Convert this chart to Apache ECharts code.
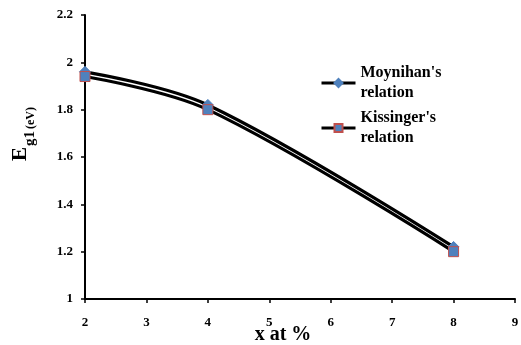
<!DOCTYPE html>
<html><head><meta charset="utf-8">
<script src="https://cdn.jsdelivr.net/npm/echarts@6/dist/echarts.min.js"></script>
<style>html,body{margin:0;padding:0;background:#fff}#c{width:521px;height:345px}</style>
</head><body><div id="c"></div>
<script>
const xValues = [2, 4, 8];
const moynihan = [1.96, 1.82, 1.22];
const kissinger = [1.94, 1.80, 1.20];
const seriesNames = ["Moynihan's\nrelation", "Kissinger's\nrelation"];

const F = '"Liberation Serif","Times New Roman",serif';
const chart = echarts.init(document.getElementById('c'));
chart.setOption({
  animation: false,
  backgroundColor: '#fff',
  grid: {left: 85, right: 6, top: 15, bottom: 46, containLabel: false, outerBoundsMode: 'none'},
  legend: {
    orient: 'vertical', left: 315, top: 58, itemWidth: 34, itemHeight: 10, itemGap: 5,
    lineStyle: {width: 3, color: '#000'},
    textStyle: {fontFamily: F, fontWeight: 'bold', fontSize: 16, color: '#000', lineHeight: 20},
    data: seriesNames
  },
  xAxis: {
    type: 'value', min: 2, max: 9, interval: 1,
    name: 'x at %', nameLocation: 'middle', nameGap: 26, nameMoveOverlap: false,
    nameTextStyle: {fontFamily: F, fontWeight: 'bold', fontSize: 20, color: '#000', padding: [0, 34, 0, 0]},
    axisLine: {lineStyle: {color: '#000', width: 2}},
    axisTick: {length: 4, lineStyle: {color: '#000', width: 1.5}},
    axisLabel: {fontFamily: F, fontWeight: 'bold', fontSize: 13, color: '#000', margin: 17},
    splitLine: {show: false}
  },
  yAxis: {
    type: 'value', min: 1, max: 2.2, interval: 0.2,
    name: '{e|E}{s|g1}{u|(eV)}', nameLocation: 'middle', nameGap: 47, nameMoveOverlap: false,
    nameTextStyle: {
      color: '#000',
      padding: [0, 0, 0, 46],
      rich: {
        e: {fontFamily: F, fontWeight: 'bold', fontSize: 21, color: '#000', padding: [0, 1, 6, 0]},
        s: {fontFamily: F, fontWeight: 'bold', fontSize: 15, color: '#000', verticalAlign: 'bottom', padding: [14, 1, 0, 0]},
        u: {fontFamily: F, fontWeight: 'bold', fontSize: 12, color: '#000', verticalAlign: 'bottom', padding: [14, 0, 1, 1]}
      }
    },
    nameRotate: 90,
    axisLine: {show: true, lineStyle: {color: '#000', width: 2}},
    axisTick: {show: true, length: 4, lineStyle: {color: '#000', width: 1.5}},
    axisLabel: {fontFamily: F, fontWeight: 'bold', fontSize: 13, color: '#000', margin: 12},
    splitLine: {show: false}
  },
  series: [
    {
      name: seriesNames[0], type: 'line', smooth: 0.35,
      data: xValues.map((x, i) => [x, moynihan[i]]),
      lineStyle: {color: '#000', width: 3.2},
      symbol: 'diamond', symbolSize: 11,
      itemStyle: {color: '#4F81BD', borderColor: '#4F81BD', borderWidth: 1}
    },
    {
      name: seriesNames[1], type: 'line', smooth: 0.35,
      data: xValues.map((x, i) => [x, kissinger[i]]),
      lineStyle: {color: '#000', width: 3.2},
      symbol: 'rect', symbolSize: 10,
      itemStyle: {color: '#4F81BD', borderColor: '#C0504D', borderWidth: 1}
    }
  ]
});
</script></body></html>
